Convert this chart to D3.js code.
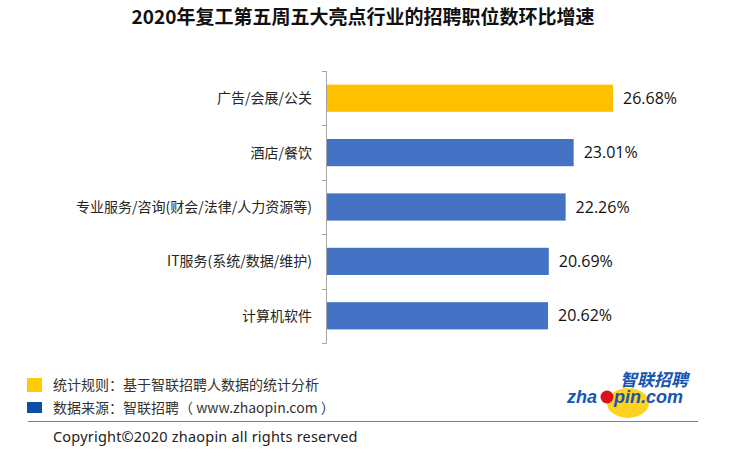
<!DOCTYPE html>
<html><head><meta charset="utf-8">
<script src="https://cdn.jsdelivr.net/npm/d3@7"></script>
<style>body{margin:0;background:#fff}svg{display:block}</style>
</head><body>
<svg id="c" width="750" height="459"></svg>
<script>
const categories = ["广告/会展/公关","酒店/餐饮","专业服务/咨询(财会/法律/人力资源等)","IT服务(系统/数据/维护)","计算机软件"];
const values = [26.68, 23.01, 22.26, 20.69, 20.62];
const highlight = [true, false, false, false, false];
const title = "2020年复工第五周五大亮点行业的招聘职位数环比增速";
const notes = ["统计规则：基于智联招聘人数据的统计分析","数据来源：智联招聘（ www.zhaopin.com ）"];
const copyright = "Copyright©2020 zhaopin all rights reserved";

const svg = d3.select("#c");
const font = "'Noto Sans CJK SC','Noto Sans',sans-serif";

svg.append("text").attr("x",363).attr("y",24).attr("text-anchor","middle")
  .attr("font-family",font).attr("font-weight","bold").attr("font-size",19)
  .attr("fill","#111").text(title);

const x = d3.scaleLinear().domain([0, 26.68]).range([327, 613]);
const y = d3.scaleBand().domain(categories).range([71, 343]).paddingInner(0.5).paddingOuter(0.25);

const g = svg.append("g");
g.append("line").attr("x1",326.5).attr("x2",326.5).attr("y1",71).attr("y2",343).attr("stroke","#a6a6a6");
const bounds = d3.range(categories.length+1).map(i => 71 + i*(272/categories.length));
g.selectAll("line.t").data(bounds).join("line").attr("class","t")
  .attr("x1",322).attr("x2",326.5).attr("y1",d=>Math.round(d)+0.5).attr("y2",d=>Math.round(d)+0.5).attr("stroke","#a6a6a6");

const data = categories.map((c,i)=>({c, v:values[i], h:highlight[i]}));
svg.selectAll("rect.bar").data(data).join("rect").attr("class","bar")
  .attr("x", x(0)).attr("y", d=>y(d.c)).attr("width", d=>x(d.v)-x(0)).attr("height", y.bandwidth())
  .attr("fill", d=>d.h ? "#FFC000" : "#4472C4");

svg.selectAll("text.cat").data(data).join("text").attr("class","cat")
  .attr("x",312).attr("y",d=>y(d.c)+y.bandwidth()/2).attr("dy","0.35em").attr("text-anchor","end")
  .attr("font-family",font).attr("font-size",14).attr("fill","#262626").text(d=>d.c);

svg.selectAll("text.val").data(data).join("text").attr("class","val")
  .attr("x",d=>x(d.v)+10).attr("y",d=>y(d.c)+y.bandwidth()/2).attr("dy","0.35em")
  .attr("font-family","'Open Sans','Noto Sans',sans-serif").attr("font-size",16).attr("fill","#111")
  .text(d=>d.v.toFixed(2)+"%");

const legColors = ["#FFCC00","#0D4EA6"];
notes.forEach((t,i)=>{
  svg.append("rect").attr("x",27).attr("y",378+i*24).attr("width",15).attr("height",i?11:14).attr("fill",legColors[i]);
  svg.append("text").attr("x",53).attr("y",385+i*23).attr("dy","0.35em")
    .attr("font-family",font).attr("font-size",14).attr("fill","#333").text(t);
});
svg.append("line").attr("x1",28).attr("x2",698).attr("y1",421.5).attr("y2",421.5).attr("stroke","#808080").attr("stroke-width",1.2);
svg.append("text").attr("x",53).attr("y",437).attr("dy","0.35em")
  .attr("font-family","'Noto Sans',sans-serif").attr("font-size",14.5).attr("letter-spacing",0.2).attr("fill","#222").text(copyright);

const lg = svg.append("g");
lg.append("ellipse").attr("cx",628).attr("cy",403).attr("rx",21).attr("ry",15).attr("fill","#FFD21F");
lg.append("text").attr("x",620).attr("y",386).attr("font-family",font).attr("font-weight","bold")
  .attr("font-style","italic").attr("font-size",17).attr("fill","#1555B5").text("智联招聘");
lg.append("text").attr("x",567).attr("y",403).attr("font-family","'Liberation Sans',Arial,sans-serif").attr("font-weight","bold")
  .attr("font-style","italic").attr("font-size",18).attr("fill","#1555B5").text("zha");
lg.append("circle").attr("cx",607).attr("cy",397).attr("r",6.5).attr("fill","#D9141B");
lg.append("text").attr("x",614).attr("y",403).attr("font-family","'Liberation Sans',Arial,sans-serif").attr("font-weight","bold")
  .attr("font-style","italic").attr("font-size",18).attr("fill","#1555B5").text("pin.com");
</script>
</body></html>
